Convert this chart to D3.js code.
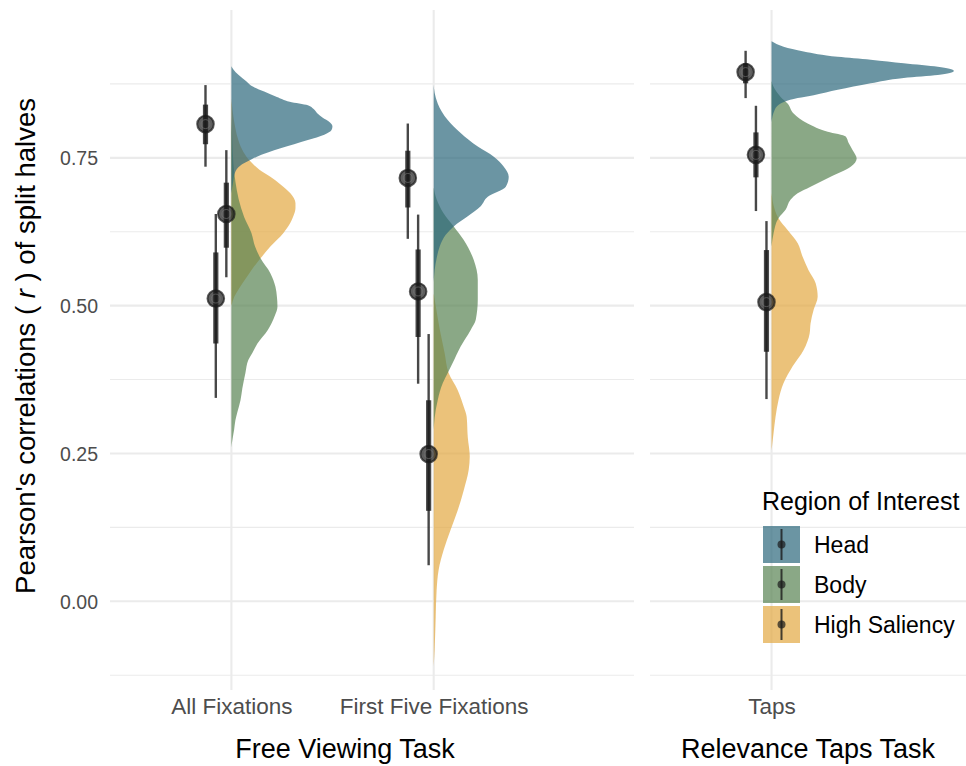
<!DOCTYPE html>
<html>
<head>
<meta charset="utf-8">
<script src="https://cdn.jsdelivr.net/npm/d3@7"></script>
<style>
  body { margin: 0; background: #fff; }
  svg { display: block; font-family: "Liberation Sans", Arial, sans-serif; }
</style>
</head>
<body>
<svg id="chart" width="966" height="766"></svg>
<script>
// ---- data ----
const categories = ["All Fixations", "First Five Fixations", "Taps"];
const categoryFacet = [0, 0, 1];
const categoryIndex = [1, 2, 1];
const facetTitles = ["Free Viewing Task", "Relevance Taps Task"];
const regions = ["Head", "Body", "High Saliency"];
const regionColors = ["#2c687c", "#588352", "#e2a842"];
const yTickValues = [0, 0.25, 0.5, 0.75];
const yMinorValues = [-0.125, 0.125, 0.375, 0.625, 0.875];

// point summaries: rows = categories, columns = regions (Head, Body, High Saliency)
const medians = [[0.807, 0.512, 0.655], [0.716, 0.524, 0.249], [0.895, 0.755, 0.506]];
const lo66 = [[0.773, 0.436, 0.598], [0.666, 0.447, 0.153], [0.876, 0.717, 0.422]];
const hi66 = [[0.840, 0.590, 0.708], [0.762, 0.595, 0.340], [0.910, 0.793, 0.594]];
const lo95 = [[0.735, 0.344, 0.548], [0.613, 0.368, 0.061], [0.851, 0.660, 0.342]];
const hi95 = [[0.873, 0.655, 0.763], [0.808, 0.654, 0.452], [0.931, 0.838, 0.643]];

// split-half correlation densities: [r, relative density]
const densAllHead = [[0.69,0],[0.71,0.01],[0.725,0.02],[0.737,0.05],[0.744,0.09],[0.752,0.14],[0.766,0.27],[0.780,0.42],[0.789,0.51],[0.797,0.55],[0.803,0.555],[0.810,0.54],[0.818,0.50],[0.826,0.47],[0.833,0.45],[0.839,0.42],[0.845,0.32],[0.853,0.25],[0.862,0.18],[0.870,0.12],[0.880,0.08],[0.890,0.04],[0.900,0.01],[0.905,0]];
const densAllBody = [[0.26,0],[0.268,0.003],[0.29,0.015],[0.306,0.022],[0.32,0.033],[0.340,0.05],[0.36,0.06],[0.386,0.077],[0.408,0.093],[0.42,0.115],[0.436,0.143],[0.459,0.20],[0.47,0.22],[0.484,0.24],[0.498,0.253],[0.515,0.25],[0.532,0.242],[0.555,0.214],[0.58,0.16],[0.60,0.13],[0.623,0.11],[0.65,0.07],[0.68,0.04],[0.71,0.022],[0.74,0.011],[0.78,0.005],[0.82,0]];
const densAllSal = [[0.50,0],[0.515,0.016],[0.53,0.044],[0.545,0.077],[0.56,0.11],[0.58,0.16],[0.60,0.214],[0.623,0.286],[0.640,0.324],[0.651,0.34],[0.665,0.352],[0.673,0.352],[0.690,0.324],[0.705,0.27],[0.718,0.214],[0.730,0.154],[0.744,0.104],[0.76,0.066],[0.78,0.038],[0.80,0.022],[0.82,0.011],[0.84,0.003],[0.85,0]];

const densFirstHead = [[0.54,0],[0.56,0.005],[0.58,0.016],[0.60,0.033],[0.62,0.066],[0.634,0.11],[0.651,0.187],[0.668,0.258],[0.684,0.297],[0.701,0.396],[0.718,0.412],[0.735,0.385],[0.752,0.33],[0.769,0.242],[0.792,0.148],[0.814,0.077],[0.842,0.022],[0.86,0.005],[0.873,0]];
const densFirstBody = [[0.29,0],[0.31,0.005],[0.340,0.022],[0.369,0.05],[0.386,0.077],[0.403,0.104],[0.431,0.148],[0.459,0.203],[0.476,0.231],[0.510,0.242],[0.544,0.242],[0.577,0.22],[0.611,0.165],[0.634,0.11],[0.656,0.055],[0.68,0.016],[0.70,0]];
const densFirstSal = [[-0.11,0],[-0.082,0.005],[-0.026,0.011],[0.019,0.016],[0.053,0.027],[0.087,0.055],[0.121,0.093],[0.154,0.132],[0.188,0.165],[0.222,0.192],[0.245,0.198],[0.278,0.187],[0.312,0.181],[0.329,0.165],[0.357,0.132],[0.386,0.082],[0.42,0.06],[0.46,0.033],[0.50,0.011],[0.52,0]];

const densTapsHead = [[0.81,0],[0.82,0.005],[0.83,0.016],[0.838,0.033],[0.845,0.071],[0.851,0.143],[0.856,0.231],[0.865,0.363],[0.876,0.544],[0.885,0.725],[0.890,0.912],[0.897,1.0],[0.904,0.912],[0.910,0.725],[0.916,0.544],[0.921,0.363],[0.930,0.176],[0.938,0.066],[0.947,0]];
const densTapsBody = [[0.60,0],[0.622,0.011],[0.648,0.038],[0.662,0.077],[0.679,0.104],[0.690,0.143],[0.701,0.214],[0.718,0.324],[0.735,0.434],[0.749,0.467],[0.763,0.445],[0.775,0.423],[0.786,0.407],[0.794,0.308],[0.808,0.198],[0.825,0.121],[0.842,0.088],[0.853,0.05],[0.870,0.011],[0.88,0]];
const densTapsSal = [[0.255,0],[0.284,0.011],[0.312,0.022],[0.340,0.038],[0.369,0.066],[0.397,0.115],[0.425,0.176],[0.453,0.209],[0.470,0.214],[0.493,0.231],[0.515,0.253],[0.538,0.242],[0.560,0.203],[0.583,0.17],[0.606,0.143],[0.628,0.088],[0.648,0.038],[0.67,0.011],[0.69,0]];

const densities = [
  [densAllHead, densAllBody, densAllSal],
  [densFirstHead, densFirstBody, densFirstSal],
  [densTapsHead, densTapsBody, densTapsSal]
];

// ---- layout ----
const svg = d3.select("#chart");
const panelTop = 10, panelBottom = 690;
const y = d3.scaleLinear().domain([-0.15, 1.0]).range([panelBottom, panelTop]);
const xScales = [
  d3.scaleLinear().domain([0.4, 2.99]).range([110, 634]),
  d3.scaleLinear().domain([0.4, 1.96]).range([650, 966])
];
const slabHeight = 0.9;                 // slab thickness at density 1, in category units
const dodge = [-0.128, -0.077, -0.025]; // interval offsets per region, in category units
const slabOpacity = 0.7;
const inkColor = "#1a1a1a";

// ---- panels: grid ----
xScales.forEach((xs, f) => {
  const [x0, x1] = xs.range();
  const g = svg.append("g").attr("class", "grid");
  g.selectAll("line.minor").data(yMinorValues).join("line")
    .attr("x1", x0).attr("x2", x1)
    .attr("y1", d => y(d)).attr("y2", d => y(d))
    .attr("stroke", "#ebebeb").attr("stroke-width", 1.1);
  g.selectAll("line.major").data(yTickValues).join("line")
    .attr("x1", x0).attr("x2", x1)
    .attr("y1", d => y(d)).attr("y2", d => y(d))
    .attr("stroke", "#ebebeb").attr("stroke-width", 2.1);
  const idx = categories.map((c, i) => i).filter(i => categoryFacet[i] === f);
  g.selectAll("line.vert").data(idx).join("line")
    .attr("x1", i => xs(categoryIndex[i])).attr("x2", i => xs(categoryIndex[i]))
    .attr("y1", panelTop).attr("y2", panelBottom)
    .attr("stroke", "#ebebeb").attr("stroke-width", 2.1);
});

// ---- slabs (drawn High Saliency first, Head on top) ----
categories.forEach((cat, ci) => {
  const xs = xScales[categoryFacet[ci]];
  const base = categoryIndex[ci];
  const area = d3.area()
    .curve(d3.curveMonotoneY)
    .y(d => y(d[0]))
    .x0(xs(base))
    .x1(d => xs(base + d[1] * slabHeight));
  [2, 1, 0].forEach(ri => {
    const pts = densities[ci][ri].slice().sort((a, b) => b[0] - a[0]);
    svg.append("path")
      .attr("d", area(pts))
      .attr("fill", regionColors[ri])
      .attr("fill-opacity", slabOpacity);
  });
});

// ---- point intervals ----
categories.forEach((cat, ci) => {
  const xs = xScales[categoryFacet[ci]];
  const base = categoryIndex[ci];
  regions.forEach((r, ri) => {
    const cx = xs(base + dodge[ri]);
    const g = svg.append("g");
    g.append("line")
      .attr("x1", cx).attr("x2", cx)
      .attr("y1", y(lo95[ci][ri])).attr("y2", y(hi95[ci][ri]))
      .attr("stroke", inkColor).attr("stroke-opacity", 0.8).attr("stroke-width", 2.4);
    g.append("line")
      .attr("x1", cx).attr("x2", cx)
      .attr("y1", y(lo66[ci][ri])).attr("y2", y(hi66[ci][ri]))
      .attr("stroke", inkColor).attr("stroke-opacity", 0.8).attr("stroke-width", 5.2);
    g.append("circle")
      .attr("cx", cx).attr("cy", y(medians[ci][ri])).attr("r", 8.3)
      .attr("fill", inkColor).attr("fill-opacity", 0.7)
      .attr("stroke", inkColor).attr("stroke-opacity", 0.7).attr("stroke-width", 2);
    g.append("circle")
      .attr("cx", cx).attr("cy", y(medians[ci][ri])).attr("r", 4.5)
      .attr("fill", "none")
      .attr("stroke", "#777").attr("stroke-opacity", 0.6).attr("stroke-width", 1);
  });
});

// ---- axes ----
const yAxis = d3.axisLeft(y).tickValues(yTickValues).tickSize(0).tickPadding(0)
  .tickFormat(d3.format(".2f"));
const yAxisG = svg.append("g").attr("transform", "translate(98,0)").call(yAxis);
yAxisG.select(".domain").remove();
yAxisG.selectAll("text").attr("fill", "#4d4d4d").style("font-size", "19.5px")
  .attr("dy", "0.36em");

xScales.forEach((xs, f) => {
  const idx = categories.map((c, i) => i).filter(i => categoryFacet[i] === f);
  const ax = d3.axisBottom(xs).tickValues(idx.map(i => categoryIndex[i]))
    .tickSize(0).tickPadding(0)
    .tickFormat(v => categories[idx.find(i => categoryIndex[i] === v)]);
  const g = svg.append("g").attr("transform", "translate(0,698)").call(ax);
  g.select(".domain").remove();
  g.selectAll("text").attr("fill", "#4d4d4d").style("font-size", "22.5px");
});

// facet axis titles
svg.append("text").attr("x", 345).attr("y", 758)
  .attr("text-anchor", "middle").style("font-size", "27px").attr("fill", "#000")
  .text(facetTitles[0]);
svg.append("text").attr("x", 808).attr("y", 758)
  .attr("text-anchor", "middle").style("font-size", "27px").attr("fill", "#000")
  .text(facetTitles[1]);

// y title
const yt = svg.append("text")
  .attr("transform", "translate(35,346) rotate(-90)")
  .attr("text-anchor", "middle").style("font-size", "27.5px").attr("fill", "#000");
yt.append("tspan").text("Pearson's correlations ( ");
yt.append("tspan").style("font-style", "italic").text("r");
yt.append("tspan").text(" ) of split halves");

// ---- legend ----
const lg = svg.append("g").attr("transform", "translate(762,0)");
lg.append("text").attr("x", 0).attr("y", 510).style("font-size", "25px").attr("fill", "#000")
  .text("Region of Interest");
regions.forEach((r, ri) => {
  const ky = 526 + ri * 40;
  lg.append("rect").attr("x", 1).attr("y", ky).attr("width", 37).attr("height", 37)
    .attr("fill", regionColors[ri]).attr("fill-opacity", slabOpacity);
  lg.append("line").attr("x1", 19.5).attr("x2", 19.5).attr("y1", ky + 3).attr("y2", ky + 34)
    .attr("stroke", inkColor).attr("stroke-opacity", 0.8).attr("stroke-width", 2);
  lg.append("circle").attr("cx", 19.5).attr("cy", ky + 18.5).attr("r", 4)
    .attr("fill", inkColor).attr("fill-opacity", 0.7);
  lg.append("text").attr("x", 52).attr("y", ky + 26.5).style("font-size", "23px").attr("fill", "#000")
    .text(r);
});
</script>
</body>
</html>
